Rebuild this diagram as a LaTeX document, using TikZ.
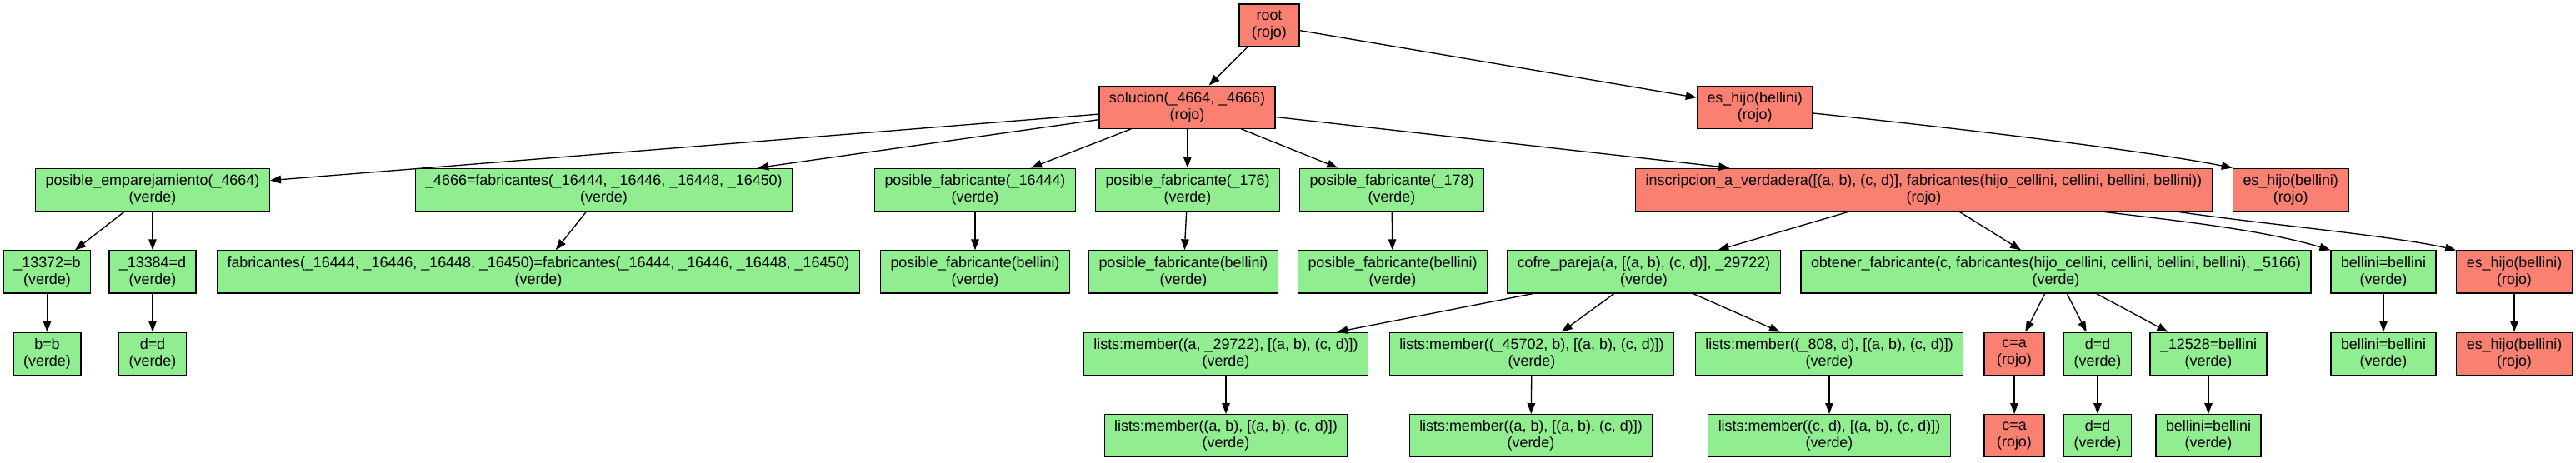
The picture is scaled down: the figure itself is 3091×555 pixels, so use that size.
\documentclass[tikz,border=0pt]{standalone}
\usepackage{fontspec}
\setmainfont{Liberation Sans}
\usetikzlibrary{arrows.meta}
\definecolor{salmon}{HTML}{FA8072}
\definecolor{lightgreen}{HTML}{90EE90}
\tikzset{
  box/.style={draw=black, line width=1.33pt, rectangle, minimum height=51pt, minimum width=72pt,
    inner xsep=12pt, inner ysep=0pt, align=center, font=\fontsize{17.9}{20}\selectfont},
  rojo/.style={box, fill=salmon},
  verde/.style={box, fill=lightgreen},
  edge/.style={-{Triangle[length=13pt,width=9.5pt]}, line width=1.33pt}
}
\begin{document}
\begin{tikzpicture}[x=1pt,y=-1pt]
\useasboundingbox (0,0) rectangle (3091,555);
\fill[white] (0,0) rectangle (3091,555);
% row 0
\node[rojo] (root) at (1523,30.5) {root\\(rojo)};
% row 1
\node[rojo] (sol) at (1424.5,128.7) {solucion(\_4664, \_4666)\\(rojo)};
\node[rojo] (esh1) at (2105.7,129) {es\_hijo(bellini)\\(rojo)};
% row 2
\node[verde] (pe) at (183,227.7) {posible\_emparejamiento(\_4664)\\(verde)};
\node[verde] (f4666) at (724.5,227.7) {\_4666=fabricantes(\_16444, \_16446, \_16448, \_16450)\\(verde)};
\node[verde] (pf1) at (1170,227.7) {posible\_fabricante(\_16444)\\(verde)};
\node[verde] (pf2) at (1425,227.7) {posible\_fabricante(\_176)\\(verde)};
\node[verde] (pf3) at (1670,227.7) {posible\_fabricante(\_178)\\(verde)};
\node[rojo] (insc) at (2308.5,227.7) {inscripcion\_a\_verdadera([(a, b), (c, d)], fabricantes(hijo\_cellini, cellini, bellini, bellini))\\(rojo)};
\node[rojo] (esh2) at (2748.7,227.7) {es\_hijo(bellini)\\(rojo)};
% row 3
\node[verde] (b1) at (56.5,326.5) {\_13372=b\\(verde)};
\node[verde] (d1) at (183,326.5) {\_13384=d\\(verde)};
\node[verde] (ffab) at (646,326.5) {fabricantes(\_16444, \_16446, \_16448, \_16450)=fabricantes(\_16444, \_16446, \_16448, \_16450)\\(verde)};
\node[verde] (pfb1) at (1170,326.5) {posible\_fabricante(bellini)\\(verde)};
\node[verde] (pfb2) at (1420,326.5) {posible\_fabricante(bellini)\\(verde)};
\node[verde] (pfb3) at (1671,326.5) {posible\_fabricante(bellini)\\(verde)};
\node[verde] (cofre) at (1972.5,326.5) {cofre\_pareja(a, [(a, b), (c, d)], \_29722)\\(verde)};
\node[verde] (obt) at (2467,326.5) {obtener\_fabricante(c, fabricantes(hijo\_cellini, cellini, bellini, bellini), \_5166)\\(verde)};
\node[verde] (bel3) at (2860,326.5) {bellini=bellini\\(verde)};
\node[rojo] (esh3) at (3017,326.5) {es\_hijo(bellini)\\(rojo)};
% row 4
\node[verde] (bb) at (56.5,424.8) {b=b\\(verde)};
\node[verde] (dd1) at (183,424.8) {d=d\\(verde)};
\node[verde] (lm1) at (1471,424.8) {lists:member((a, \_29722), [(a, b), (c, d)])\\(verde)};
\node[verde] (lm2) at (1838,424.8) {lists:member((\_45702, b), [(a, b), (c, d)])\\(verde)};
\node[verde] (lm3) at (2195,424.8) {lists:member((\_808, d), [(a, b), (c, d)])\\(verde)};
\node[rojo] (ca4) at (2417,424.8) {c=a\\(rojo)};
\node[verde] (dd4) at (2517,424.8) {d=d\\(verde)};
\node[verde] (b12528) at (2650,424.8) {\_12528=bellini\\(verde)};
\node[verde] (bel4) at (2860,424.8) {bellini=bellini\\(verde)};
\node[rojo] (esh4) at (3017,424.8) {es\_hijo(bellini)\\(rojo)};
% row 5
\node[verde] (lm1b) at (1471,523.2) {lists:member((a, b), [(a, b), (c, d)])\\(verde)};
\node[verde] (lm2b) at (1837,523.2) {lists:member((a, b), [(a, b), (c, d)])\\(verde)};
\node[verde] (lm3b) at (2195,523.2) {lists:member((c, d), [(a, b), (c, d)])\\(verde)};
\node[rojo] (ca5) at (2417,523.2) {c=a\\(rojo)};
\node[verde] (dd5) at (2517,523.2) {d=d\\(verde)};
\node[verde] (bel5) at (2650,523.2) {bellini=bellini\\(verde)};
% edges
\draw[edge] (root) -- (sol);
\draw[edge] (root) -- (esh1);
\draw[edge] (sol) -- (pe);
\draw[edge] (sol) -- (f4666);
\draw[edge] (sol) -- (pf1);
\draw[edge] (sol) -- (pf2);
\draw[edge] (sol) -- (pf3);
\draw[edge] (sol) -- (insc);
\draw[edge] ([yshift=-7pt]esh1.east) .. controls +(175,18) and +(-100,-20) .. (esh2.north west);
\draw[edge] (pe) -- (b1);
\draw[edge] (pe) -- (d1);
\draw[edge] (f4666) -- (ffab);
\draw[edge] (pf1) -- (pfb1);
\draw[edge] (pf2) -- (pfb2);
\draw[edge] (pf3) -- (pfb3);
\draw[edge] (insc) -- (cofre);
\draw[edge] (insc) -- (obt);
\draw[edge] ([xshift=211.5pt]insc.south) .. controls +(100,12) and +(-80,-24) .. (bel3.north west);
\draw[edge] ([xshift=301.5pt]insc.south) .. controls +(110,16) and +(-77,-17.5) .. (esh3.north west);
\draw[edge] (b1) -- (bb);
\draw[edge] (d1) -- (dd1);
\draw[edge] (cofre) -- (lm1);
\draw[edge] (cofre) -- (lm2);
\draw[edge] (cofre) -- (lm3);
\draw[edge] (obt) -- (ca4);
\draw[edge] (obt) -- (dd4);
\draw[edge] (obt) -- (b12528);
\draw[edge] (bel3) -- (bel4);
\draw[edge] (esh3) -- (esh4);
\draw[edge] (lm1) -- (lm1b);
\draw[edge] (lm2) -- (lm2b);
\draw[edge] (lm3) -- (lm3b);
\draw[edge] (ca4) -- (ca5);
\draw[edge] (dd4) -- (dd5);
\draw[edge] (b12528) -- (bel5);
\end{tikzpicture}
\end{document}
